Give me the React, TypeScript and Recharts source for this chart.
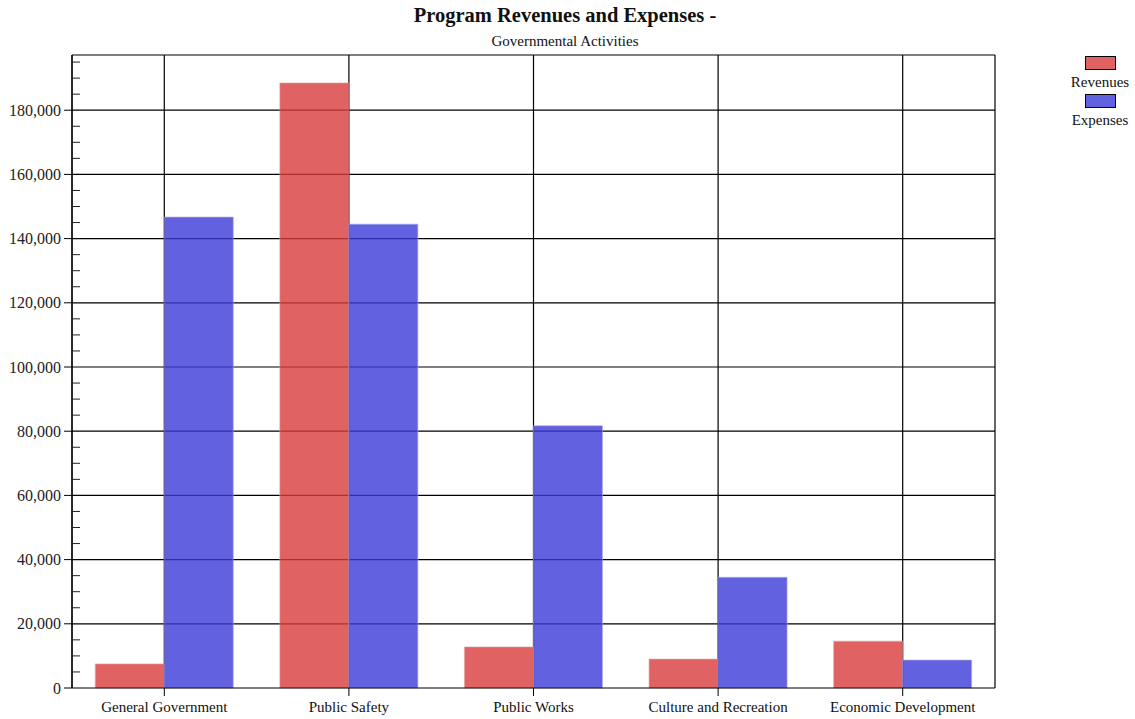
import React from "react";
import {
  BarChart,
  Bar,
  XAxis,
  YAxis,
  CartesianGrid,
  Legend,
} from "recharts";

document.body.style.margin = "0";

const categories = [
  "General Government",
  "Public Safety",
  "Public Works",
  "Culture and Recreation",
  "Economic Development",
];
const revenues = [7500, 188500, 12800, 9000, 14600];
const expenses = [146700, 144500, 81700, 34500, 8700];
const seriesOrder = ["Revenues", "Expenses"];

const Y_MAX = 197200;
const yTicks = [
  0, 5000, 10000, 15000, 20000, 25000, 30000, 35000, 40000, 45000, 50000,
  55000, 60000, 65000, 70000, 75000, 80000, 85000, 90000, 95000, 100000,
  105000, 110000, 115000, 120000, 125000, 130000, 135000, 140000, 145000,
  150000, 155000, 160000, 165000, 170000, 175000, 180000, 185000, 190000,
  195000,
];
// the last value closes the frame along the top of the plot
const gridValues = [
  20000, 40000, 60000, 80000, 100000, 120000, 140000, 160000, 180000, Y_MAX,
];

const data = categories.map((name, i) => ({
  name,
  Revenues: revenues[i],
  Expenses: expenses[i],
}));

const FONT = '"Liberation Serif", "Times New Roman", serif';

// left axis: labelled outer tick every 20,000, short inner tick every 5,000
function YTick(props: any) {
  const { x, y, payload } = props;
  const v = payload.value as number;
  const major = v % 20000 === 0;
  return (
    <g>
      {major ? (
        <>
          <line x1={x - 8} x2={x} y1={y} y2={y} stroke="#000" />
          <text
            x={x - 11}
            y={y}
            dy={5.5}
            textAnchor="end"
            fontSize={16}
            fontFamily={FONT}
            fill="#222"
          >
            {v.toLocaleString("en-US")}
          </text>
        </>
      ) : (
        <line x1={x} x2={x + 8} y1={y} y2={y} stroke="#222" />
      )}
    </g>
  );
}

function LegendBox(props: any) {
  const items = [...(props.payload || [])].sort(
    (a: any, b: any) => seriesOrder.indexOf(a.value) - seriesOrder.indexOf(b.value)
  );
  return (
    <div style={{ width: 70, fontFamily: FONT, fontSize: 15, textAlign: "center" }}>
      {items.map((p: any) => (
        <div key={p.value}>
          <div
            style={{
              width: 29,
              height: 12,
              margin: "0 auto",
              border: "1px solid #000",
              background: "#fff",
            }}
          >
            <div style={{ width: "100%", height: "100%", background: p.color, opacity: 0.8 }} />
          </div>
          <div style={{ color: "#111", lineHeight: "24px" }}>{p.value}</div>
        </div>
      ))}
    </div>
  );
}

export default function App() {
  return (
    <div style={{ position: "relative", width: 1135, height: 719, background: "#fff" }}>
      <div
        style={{
          position: "absolute",
          top: 4,
          left: 0,
          width: 1130,
          textAlign: "center",
          fontFamily: FONT,
          fontWeight: "bold",
          fontSize: 20.5,
          color: "#111",
        }}
      >
        Program Revenues and Expenses -
      </div>
      <div
        style={{
          position: "absolute",
          top: 33,
          left: 0,
          width: 1130,
          textAlign: "center",
          fontFamily: FONT,
          fontSize: 15,
          color: "#111",
        }}
      >
        Governmental Activities
      </div>
      <BarChart
        width={1135}
        height={719}
        data={data}
        margin={{ top: 55, right: 70, bottom: 0, left: 0 }}
        barCategoryGap="12.6%"
        barGap={0}
      >
        <CartesianGrid
          stroke="#000"
          strokeWidth={1.2}
          horizontalValues={gridValues}
        />
        <XAxis
          dataKey="name"
          interval={0}
          axisLine={{ stroke: "#000", strokeWidth: 1.2 }}
          tickLine={{ stroke: "#000" }}
          tickSize={8}
          tickMargin={5}
          height={31}
          tick={{ fontSize: 15, fontFamily: FONT, fill: "#111" }}
        />
        <YAxis
          domain={[0, Y_MAX]}
          ticks={yTicks}
          interval={0}
          width={72}
          tickSize={0}
          tickMargin={0}
          tickLine={false}
          axisLine={{ stroke: "#000", strokeWidth: 1.2 }}
          tick={<YTick />}
        />
        <YAxis
          yAxisId="right"
          orientation="right"
          domain={[0, Y_MAX]}
          width={0}
          tick={false}
          tickLine={false}
          axisLine={{ stroke: "#000", strokeWidth: 1.2 }}
        />
        <Legend
          layout="vertical"
          align="right"
          verticalAlign="top"
          content={<LegendBox />}
          wrapperStyle={{ top: 56, right: 0, left: "auto", width: 70 }}
        />
        <Bar
          dataKey="Revenues"
          fill="#d83b3b"
          fillOpacity={0.8}
          stroke="#e8a0a0"
          strokeOpacity={0.6}
          isAnimationActive={false}
        />
        <Bar
          dataKey="Expenses"
          fill="#3b3bd8"
          fillOpacity={0.8}
          stroke="#a8a8e8"
          strokeOpacity={0.6}
          isAnimationActive={false}
        />
      </BarChart>
    </div>
  );
}
